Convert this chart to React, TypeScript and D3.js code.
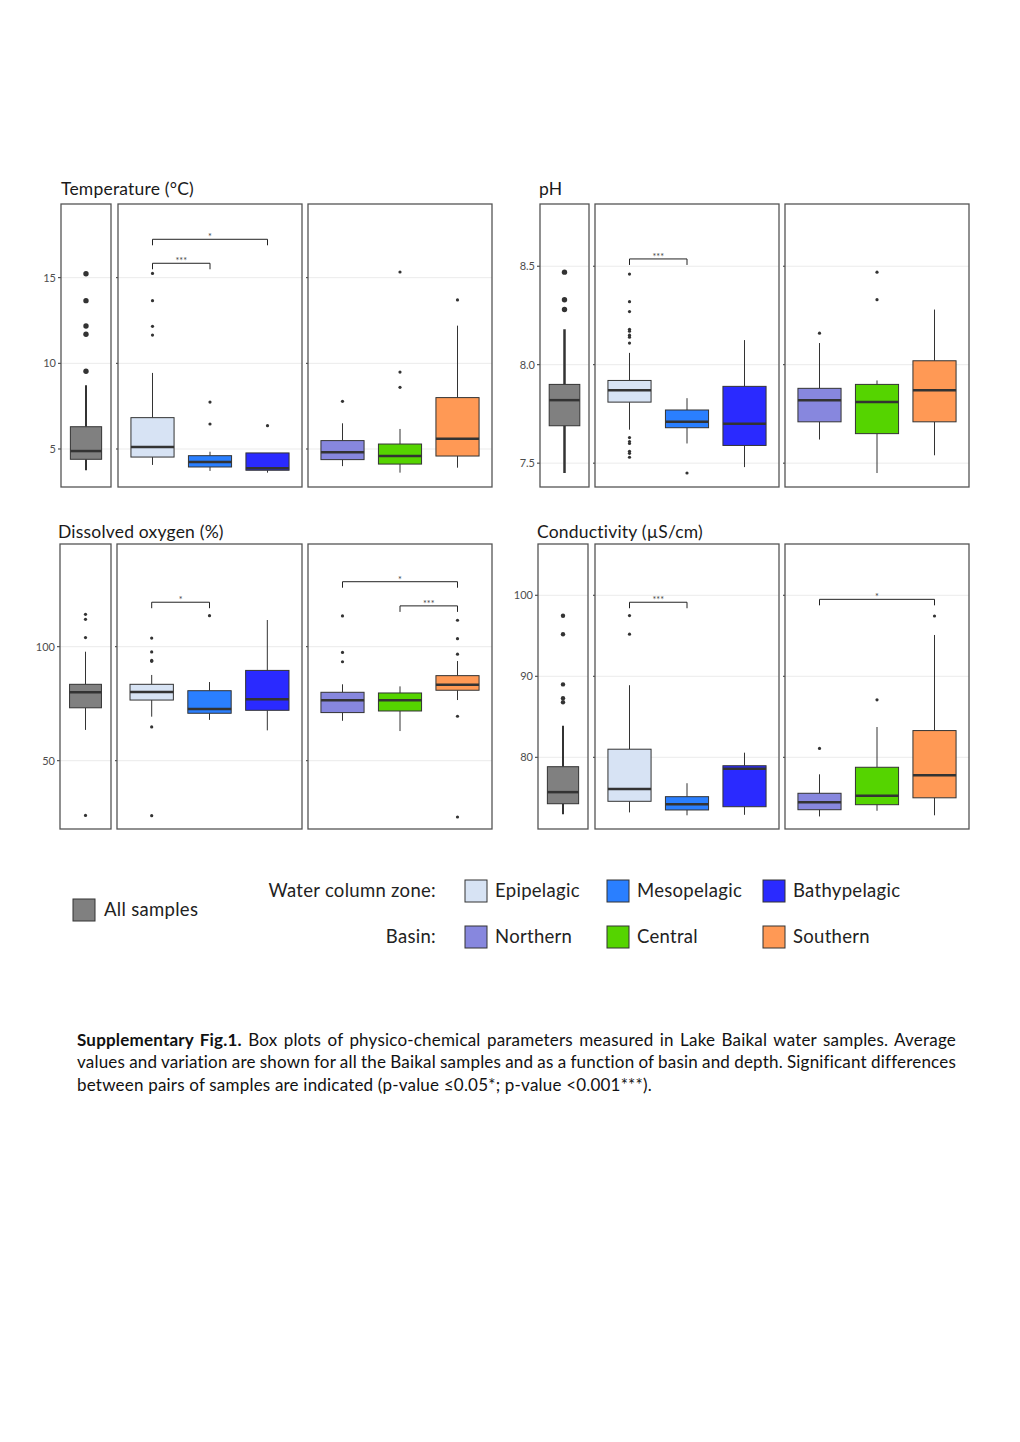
import React, { useEffect, useRef } from "react";
import * as d3 from "d3";

// ---------- DATA ----------
const groups = ["All samples", "Epipelagic", "Mesopelagic", "Bathypelagic", "Northern", "Central", "Southern"];
const groupColors = ["#808080", "#d7e3f4", "#2a7fff", "#2a2aff", "#8787de", "#55d400", "#ff9955"];
const allGroup = ["All samples"];
const zoneGroups = ["Epipelagic", "Mesopelagic", "Bathypelagic"];
const basinGroups = ["Northern", "Central", "Southern"];

// box stats per group: [lower whisker, Q1, median, Q3, upper whisker]
const tempStats = [
  [3.76, 4.40, 4.88, 6.30, 8.72],
  [4.07, 4.53, 5.12, 6.83, 9.44],
  [3.72, 3.95, 4.24, 4.61, 4.84],
  [3.62, 3.76, 3.87, 4.77, 4.77],
  [4.0, 4.38, 4.81, 5.49, 6.5],
  [3.62, 4.12, 4.59, 5.29, 6.17],
  [3.91, 4.59, 5.6, 8.0, 12.2],
];
const tempOutliers = [
  [15.23, 13.66, 12.18, 11.70, 9.54],
  [15.25, 13.66, 12.16, 11.65],
  [7.74, 6.46],
  [6.36],
  [7.78],
  [15.33, 9.49, 8.6],
  [13.7],
];
const tempTicks = [5, 10, 15];

const phStats = [
  [7.45, 7.69, 7.82, 7.90, 8.18],
  [7.67, 7.81, 7.87, 7.92, 8.06],
  [7.60, 7.68, 7.71, 7.77, 7.83],
  [7.48, 7.59, 7.70, 7.89, 8.125],
  [7.62, 7.71, 7.82, 7.88, 8.11],
  [7.45, 7.65, 7.81, 7.90, 7.92],
  [7.54, 7.71, 7.87, 8.02, 8.28],
];
const phOutliers = [
  [8.47, 8.33, 8.28],
  [8.46, 8.32, 8.27, 8.18, 8.17, 8.15, 8.14, 8.11, 7.63, 7.61, 7.60, 7.56, 7.55, 7.53],
  [7.45],
  [],
  [8.16],
  [8.47, 8.33],
  [],
];
const phTicks = [7.5, 8.0, 8.5];

const doStats = [
  [63.5, 73.2, 80.0, 83.5, 97.8],
  [69.3, 76.6, 80.1, 83.5, 87.6],
  [67.9, 70.8, 72.7, 80.7, 84.5],
  [63.3, 72.1, 76.9, 89.6, 111.7],
  [67.5, 71.1, 76.5, 80.0, 83.5],
  [63.0, 71.8, 76.5, 79.7, 82.6],
  [76.6, 80.9, 83.3, 87.3, 93.7],
];
const doOutliers = [
  [114.2, 112.0, 104.0, 26.0],
  [103.8, 97.7, 94.0, 93.6, 64.8, 25.9],
  [113.6],
  [],
  [113.5, 97.5, 93.4],
  [],
  [111.6, 103.5, 96.7, 69.5, 25.3],
];
const doTicks = [50, 100];

const condStats = [
  [72.96, 74.27, 75.7, 78.84, 83.9],
  [73.2, 74.57, 76.1, 81.0, 88.9],
  [72.84, 73.5, 74.2, 75.14, 76.8],
  [72.9, 73.9, 78.6, 78.96, 80.57],
  [72.7, 73.53, 74.44, 75.56, 77.9],
  [73.4, 74.15, 75.26, 78.77, 83.74],
  [72.84, 75.0, 77.8, 83.3, 95.1],
];
const condOutliers = [
  [97.48, 95.19, 89.0, 87.3, 86.8],
  [97.5, 95.2],
  [],
  [],
  [81.1],
  [87.1],
  [97.44],
];
const condTicks = [80, 90, 100];

// significance brackets: [from group, to group, value, label]
const tempBrackets: [string, string, number, string][] = [
  ["Epipelagic", "Bathypelagic", 17.24, "*"],
  ["Epipelagic", "Mesopelagic", 15.84, "***"],
];
const phBrackets: [string, string, number, string][] = [["Epipelagic", "Mesopelagic", 8.537, "***"]];
const doBrackets: [string, string, number, string][] = [
  ["Epipelagic", "Mesopelagic", 119.5, "*"],
  ["Northern", "Southern", 128.5, "*"],
  ["Central", "Southern", 117.9, "***"],
];
const condBrackets: [string, string, number, string][] = [
  ["Epipelagic", "Mesopelagic", 99.14, "***"],
  ["Northern", "Southern", 99.5, "*"],
];

const captionLines = [
  ["Supplementary Fig.1.", " Box plots of physico-chemical parameters measured in Lake Baikal water samples. Average"],
  ["", "values and variation are shown for all the Baikal samples and as a function of basin and depth. Significant differences"],
  ["", "between pairs of samples are indicated (p-value \u22640.05*; p-value <0.001***)."],
];

// ---------- LAYOUT ----------
const FONT = "Lato, 'Open Sans', sans-serif";

const charts = [
  { title: "Temperature (\u00b0C)", tx: 61, ty: 195, panels: [[61, 111], [118, 302], [308, 492]], y: [487, 204], domain: [2.782, 19.30], stats: tempStats, outliers: tempOutliers, ticks: tempTicks, fmt: (d: number) => String(d), brackets: tempBrackets, allR: 2.7, allW: 2 },
  { title: "pH", tx: 539, ty: 195, panels: [[540, 589], [595, 779], [785, 969]], y: [487, 204], domain: [7.379, 8.816], stats: phStats, outliers: phOutliers, ticks: phTicks, fmt: (d: number) => d.toFixed(1), brackets: phBrackets, allR: 2.7, allW: 2.5 },
  { title: "Dissolved oxygen (%)", tx: 58, ty: 538, panels: [[60, 111], [117, 302], [308, 492]], y: [829, 544], domain: [20.04, 145.04], stats: doStats, outliers: doOutliers, ticks: doTicks, fmt: (d: number) => String(d), brackets: doBrackets, allR: 1.6, allW: 1 },
  { title: "Conductivity (\u00b5S/cm)", tx: 537, ty: 538, panels: [[538, 588], [595, 779], [785, 969]], y: [829, 544], domain: [71.15, 106.33], stats: condStats, outliers: condOutliers, ticks: condTicks, fmt: (d: number) => String(d), brackets: condBrackets, allR: 2.2, allW: 2 },
];

export default function App() {
  const ref = useRef<SVGSVGElement | null>(null);

  useEffect(() => {
    const svg = d3.select(ref.current);
    svg.selectAll("*").remove();
    svg.append("rect").attr("width", 1020).attr("height", 1442).attr("fill", "#fff");

    const panelGroups = [allGroup, zoneGroups, basinGroups];

    charts.forEach((c) => {
      const g = svg.append("g");
      const y = d3.scaleLinear().domain(c.domain).range(c.y);
      g.append("text").attr("x", c.tx).attr("y", c.ty).attr("font-family", FONT).attr("font-size", 17.5)
        .attr("letter-spacing", 0.2).attr("fill", "#1a1a1a").text(c.title);

      panelGroups.forEach((pg, pi) => {
        const [x0, x1] = c.panels[pi];
        const x = d3.scalePoint<string>().domain(pg).range([x0, x1]).padding(0.6);
        const bw = x.step() * 0.75;
        const pgEl = g.append("g");
        pgEl.selectAll("line.grid").data(c.ticks).join("line")
          .attr("x1", x0).attr("x2", x1).attr("y1", (d) => y(d)).attr("y2", (d) => y(d))
          .attr("stroke", "#ebebeb").attr("stroke-width", 1);
        pgEl.selectAll("line.tk").data(c.ticks).join("line")
          .attr("x1", x0 - (pi === 0 ? 3 : 2)).attr("x2", x0).attr("y1", (d) => y(d)).attr("y2", (d) => y(d))
          .attr("stroke", "#333").attr("stroke-width", 1);
        if (pi === 0) {
          pgEl.selectAll("text.tl").data(c.ticks).join("text")
            .attr("x", x0 - 5).attr("y", (d) => y(d)).attr("dy", "0.35em").attr("text-anchor", "end")
            .attr("font-family", FONT).attr("font-size", 11).attr("fill", "#4d4d4d").text((d) => c.fmt(d));
        }
        pg.forEach((name) => {
          const gi = groups.indexOf(name);
          const [lo, q1, med, q3, hi] = c.stats[gi];
          const cx = x(name) as number;
          const ww = pi === 0 ? c.allW : 1;
          pgEl.append("line").attr("x1", cx).attr("x2", cx).attr("y1", y(q3)).attr("y2", y(hi)).attr("stroke", "#333").attr("stroke-width", ww);
          pgEl.append("line").attr("x1", cx).attr("x2", cx).attr("y1", y(q1)).attr("y2", y(lo)).attr("stroke", "#333").attr("stroke-width", ww);
          pgEl.append("rect").attr("x", cx - bw / 2).attr("width", bw).attr("y", y(q3)).attr("height", y(q1) - y(q3))
            .attr("fill", groupColors[gi]).attr("stroke", "#333").attr("stroke-width", 1);
          pgEl.append("line").attr("x1", cx - bw / 2).attr("x2", cx + bw / 2).attr("y1", y(med)).attr("y2", y(med)).attr("stroke", "#333").attr("stroke-width", 2.5);
          pgEl.selectAll(null).data(c.outliers[gi]).join("circle")
            .attr("cx", cx).attr("cy", (d) => y(d)).attr("r", pi === 0 ? c.allR : 1.6).attr("fill", "#333");
        });
        c.brackets.filter((b) => pg.includes(b[0])).forEach(([a, b, v, lab]) => {
          const xa = x(a) as number, xb = x(b) as number, yy = y(v);
          pgEl.append("path").attr("d", `M${xa},${yy + 6}V${yy}H${xb}V${yy + 6}`).attr("fill", "none").attr("stroke", "#222").attr("stroke-width", 1);
          pgEl.append("text").attr("x", (xa + xb) / 2).attr("y", yy + 1).attr("text-anchor", "middle")
            .attr("font-family", FONT).attr("font-size", 9).attr("fill", "#444").text(lab);
        });
        pgEl.append("rect").attr("x", x0).attr("y", c.y[1]).attr("width", x1 - x0).attr("height", c.y[0] - c.y[1])
          .attr("fill", "none").attr("stroke", "#555").attr("stroke-width", 1.3);
      });
    });

    // legend
    const lg = svg.append("g").attr("font-family", FONT).attr("font-size", 18.5).attr("letter-spacing", 0.3).attr("fill", "#222");
    const sq = (xx: number, yy: number, col: string) =>
      lg.append("rect").attr("x", xx).attr("y", yy).attr("width", 22).attr("height", 22).attr("fill", col).attr("stroke", "#333").attr("stroke-width", 1);
    sq(73, 899, groupColors[0]);
    lg.append("text").attr("x", 104).attr("y", 916).text("All samples");
    lg.append("text").attr("x", 436).attr("y", 897).attr("text-anchor", "end").text("Water column zone:");
    lg.append("text").attr("x", 436).attr("y", 943).attr("text-anchor", "end").text("Basin:");
    const lx = [465, 607, 763];
    zoneGroups.forEach((n, i) => {
      sq(lx[i], 880, groupColors[groups.indexOf(n)]);
      lg.append("text").attr("x", lx[i] + 30).attr("y", 897).text(n);
    });
    basinGroups.forEach((n, i) => {
      sq(lx[i], 926, groupColors[groups.indexOf(n)]);
      lg.append("text").attr("x", lx[i] + 30).attr("y", 943).text(n);
    });

    // caption (justified lines)
    const cap = svg.append("g").attr("font-family", FONT).attr("font-size", 17).attr("letter-spacing", 0.2).attr("fill", "#111");
    const baselines = [1046, 1068, 1091];
    captionLines.forEach(([bold, rest], i) => {
      const t = cap.append("text").attr("x", 77).attr("y", baselines[i]).attr("xml:space", "preserve");
      if (bold) t.append("tspan").attr("font-weight", "bold").text(bold);
      t.append("tspan").text(rest);
      if (i < 2) {
        const node = t.node() as SVGTextElement;
        const w = node.getComputedTextLength();
        const spaces = (bold + rest).split(" ").length - 1;
        const extra = (956 - 77 - w) / spaces;
        t.attr("word-spacing", extra);
      }
    });
  }, []);

  return <svg ref={ref} width={1020} height={1442} style={{ position: "absolute", left: 0, top: 0 }} />;
}
